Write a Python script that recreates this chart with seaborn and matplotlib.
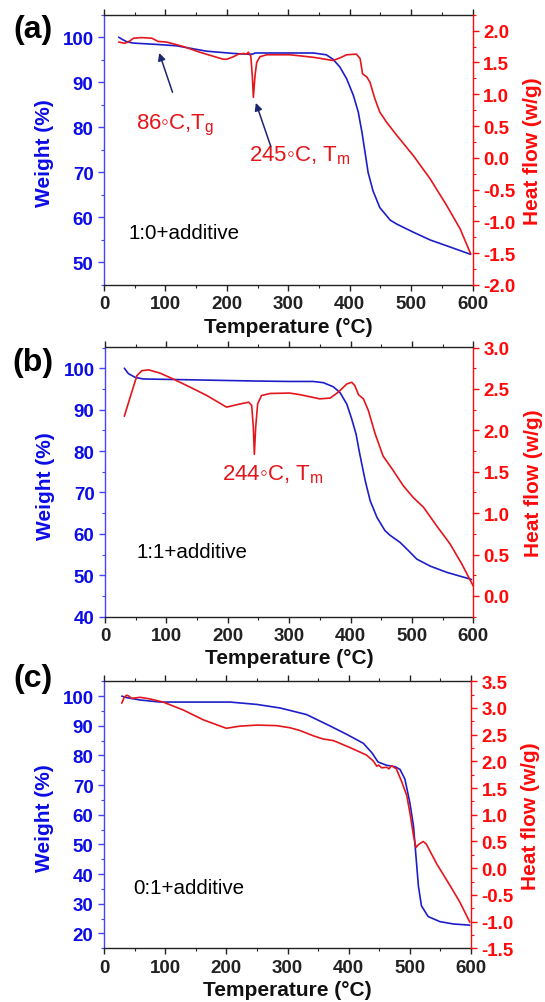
import matplotlib
matplotlib.use("Agg")
import matplotlib.pyplot as plt
from matplotlib.ticker import MultipleLocator, FormatStrFormatter
import seaborn as sns

# ---------------- data ----------------
# panel (a) 1:0+additive
a_w_T = [24, 30, 37, 48, 86, 118, 167, 211, 238, 243, 246, 250, 303, 341, 362, 373, 384, 395, 406, 414,
         420, 425, 430, 438, 449, 466, 477, 504, 531, 558, 597]
a_w = [100, 99.5, 99.0, 98.7, 98.4, 98.1, 96.9, 96.4, 96.2, 96.3, 96.5, 96.5, 96.5, 96.5, 96.1, 95.1, 93.4, 90.8, 87.1, 83.4,
       78.9, 74.5, 70.0, 65.9, 62.2, 59.4, 58.5, 56.7, 55.0, 53.7, 51.8]
a_h_T = [24, 34, 41, 48, 61, 78, 88, 102, 129, 156, 194, 200, 211, 219, 227, 232, 235, 239, 241.5, 243.2,
         245.9, 248.6, 254, 265, 303, 341, 373, 384, 395, 411, 417, 421, 428, 433, 441, 449, 460, 477, 504, 531,
         558, 580, 597]
a_h = [1.82, 1.80, 1.83, 1.88, 1.89, 1.88, 1.83, 1.82, 1.75, 1.66, 1.55, 1.55, 1.59, 1.63, 1.64, 1.63, 1.66, 1.60, 1.29, 0.95,
       1.29, 1.50, 1.59, 1.62, 1.62, 1.58, 1.53, 1.57, 1.62, 1.63, 1.56, 1.32, 1.27, 1.19, 0.93, 0.72, 0.56, 0.35, 0.03, -0.33,
       -0.75, -1.12, -1.51]

# panel (b) 1:1+additive
b_w_T = [31.5, 38, 49, 62, 139, 247, 301, 339, 356, 372, 383, 394, 402, 409, 415, 424, 432, 443, 456, 464,
         481, 492, 508, 530, 557, 597]
b_w = [100, 98.7, 97.8, 97.4, 97.2, 96.9, 96.8, 96.8, 96.5, 95.5, 94.1, 91.3, 87.7, 84.1, 79.3, 72.8, 68.0, 64.0, 60.8, 59.7,
       57.9, 56.3, 53.9, 52.2, 50.7, 49.0]
b_h_T = [31.5, 41, 52, 60, 71, 90, 111, 139, 166, 198, 204, 215, 234, 239, 241.6, 243.3, 245.5, 248.7, 255, 269,
         301, 318, 350, 367, 380, 394, 402, 407, 413, 421, 429, 440, 453, 470, 486, 502, 519, 540, 562, 581,
         595, 600]
b_h = [2.17, 2.40, 2.66, 2.72, 2.73, 2.69, 2.62, 2.52, 2.42, 2.28, 2.29, 2.31, 2.34, 2.30, 2.04, 1.71, 2.04, 2.32, 2.42, 2.445,
       2.45, 2.43, 2.38, 2.39, 2.46, 2.56, 2.58, 2.54, 2.43, 2.38, 2.24, 1.96, 1.69, 1.51, 1.33, 1.19, 1.07, 0.85, 0.63, 0.39,
       0.19, 0.12]

# panel (c) 0:1+additive
c_w_T = [29, 37, 59, 92, 141, 206, 250, 288, 331, 370, 397, 424, 438, 448, 462, 476, 484, 492, 500, 506,
         510, 514, 519, 530, 549, 571, 598]
c_w = [100, 99.5, 98.7, 98.0, 98.0, 98.0, 97.2, 96.0, 93.8, 89.9, 87.1, 84.1, 80.9, 77.8, 76.7, 76.2, 75.3, 72.0, 64.1, 56.2,
       46.1, 36.0, 29.3, 25.7, 24.0, 23.2, 22.8]
c_h_T = [29, 33, 37, 41, 45, 59, 75, 97, 130, 162, 200, 222, 250, 282, 304, 320, 342, 358, 375, 402,
         429, 440, 446, 449, 454, 462, 466, 470, 478, 487, 495, 501, 506, 510, 515, 522, 527, 544, 566, 582,
         598]
c_h = [3.09, 3.20, 3.24, 3.22, 3.18, 3.20, 3.17, 3.11, 2.96, 2.78, 2.62, 2.66, 2.68, 2.67, 2.63, 2.58, 2.48, 2.42, 2.39, 2.26,
       2.12, 2.01, 1.91, 1.93, 1.88, 1.89, 1.86, 1.92, 1.86, 1.61, 1.36, 0.98, 0.61, 0.39, 0.45, 0.50, 0.45, 0.08, -0.33, -0.64,
       -1.01]

panel_letters = ["(a)", "(b)", "(c)"]
sample_labels = ["1:0+additive", "1:1+additive", "0:1+additive"]
x_label = "Temperature (°C)"
w_label = "Weight (%)"
h_label = "Heat flow (w/g)"

# ---------------- style ----------------
sns.set_style("ticks")
plt.rcParams['font.family'] = ['Liberation Sans', 'DejaVu Sans']
plt.rcParams['mathtext.fontset'] = 'custom'
plt.rcParams['mathtext.rm'] = 'Liberation Sans'
plt.rcParams['mathtext.it'] = 'Liberation Sans:italic'
plt.rcParams['mathtext.bf'] = 'Liberation Sans:bold'

BLUE_LINE = "#1e1ec8"
BLUE_TXT = "#0c0ce6"
BLUE_SPINE = "#4444ff"
RED_LINE = "#e3161c"
RED_TXT = "#ff0a0a"
NAVY = "#1b2670"

TICK_FS = 13.5
LABEL_FS = 15
ANN_FS = 16
SAMPLE_FS = 14.8

fig = plt.figure(figsize=(5.45, 10.03), dpi=100)

rects = [
    [104 / 545, (1003 - 286) / 1003, (472.5 - 104) / 545, (286 - 15.7) / 1003],
    [105 / 545, (1003 - 617.7) / 1003, (473.3 - 105) / 545, (617.7 - 348.5) / 1003],
    [104 / 545, (1003 - 949.3) / 1003, (471 - 104) / 545, (949.3 - 682.3) / 1003],
]
wlims = [(45, 105), (40, 105), (15, 105)]
hlims = [(-2.0, 2.25), (-0.25, 3.0), (-1.5, 3.5)]
w_ticks = [range(50, 101, 10), range(40, 101, 10), range(20, 101, 10)]
letter_y = [30, 363, 679]

data = [
    (a_w_T, a_w, a_h_T, a_h),
    (b_w_T, b_w, b_h_T, b_h),
    (c_w_T, c_w, c_h_T, c_h),
]

for i, (wT, w, hT, h) in enumerate(data):
    ax = fig.add_axes(rects[i])
    ax2 = ax.twinx()
    sns.lineplot(x=wT, y=w, ax=ax, color=BLUE_LINE, lw=1.2, estimator=None, sort=False)
    sns.lineplot(x=hT, y=h, ax=ax2, color=RED_LINE, lw=1.2, estimator=None, sort=False)

    ax.set_xlim(0, 600)
    ax.set_ylim(*wlims[i])
    ax2.set_ylim(*hlims[i])
    ax.xaxis.set_major_locator(MultipleLocator(100))
    ax.xaxis.set_minor_locator(MultipleLocator(50))
    ax.set_yticks(list(w_ticks[i]))
    ax.yaxis.set_minor_locator(MultipleLocator(5))
    ax2.yaxis.set_major_locator(MultipleLocator(0.5))
    ax2.yaxis.set_minor_locator(MultipleLocator(0.25))
    ax2.yaxis.set_major_formatter(FormatStrFormatter('%.1f'))

    # spines
    ax.spines['right'].set_visible(False)
    ax.spines['left'].set_color(BLUE_SPINE)
    ax.spines['top'].set_visible(True)
    ax.spines['top'].set_color("#222222")
    ax.spines['bottom'].set_color("#222222")
    for s in ['left', 'top', 'bottom']:
        ax2.spines[s].set_visible(False)
    ax2.spines['right'].set_color(RED_TXT)
    for sp in list(ax.spines.values()) + list(ax2.spines.values()):
        sp.set_linewidth(1.0)

    # ticks
    ax.tick_params(axis='x', which='both', top=True, bottom=True, direction='out',
                   colors="#222222", labelsize=TICK_FS)
    ax.tick_params(axis='x', which='major', length=4.5, width=1.0, pad=3)
    ax.tick_params(axis='x', which='minor', length=2.5, width=0.8)
    ax.tick_params(axis='y', which='both', direction='out', color=BLUE_SPINE,
                   labelcolor=BLUE_TXT, labelsize=TICK_FS)
    ax.tick_params(axis='y', which='major', length=4.5, width=1.0, pad=3)
    ax.tick_params(axis='y', which='minor', length=2.5, width=0.8)
    ax2.tick_params(axis='y', which='both', direction='out', color=RED_TXT,
                    labelcolor=RED_TXT, labelsize=TICK_FS)
    ax2.tick_params(axis='y', which='major', length=4.5, width=1.0, pad=3)
    ax2.tick_params(axis='y', which='minor', length=2.5, width=0.8)
    for lab in ax.get_xticklabels() + ax.get_yticklabels() + ax2.get_yticklabels():
        lab.set_fontweight('bold')

    # labels
    ax.set_xlabel(x_label, fontsize=LABEL_FS, fontweight='bold', color='#111111')
    ax.xaxis.set_label_coords(0.5, -0.118)
    ax.set_ylabel(w_label, fontsize=LABEL_FS, fontweight='bold', color=BLUE_TXT)
    ax.yaxis.set_label_coords(-0.135, 0.49)
    ax2.set_ylabel(h_label, fontsize=LABEL_FS, fontweight='bold', color=RED_TXT)
    ax2.yaxis.set_label_coords(1.137, 0.5)

    fig.text(33 / 545, 1 - letter_y[i] / 1003, panel_letters[i], fontsize=23,
             fontweight='bold', ha='center', va='center', color='black')

    if i == 0:
        ax.text(39.6, 55.5, sample_labels[i], fontsize=SAMPLE_FS, color='black', va='baseline')
        ax.text(52, 79.7, r"86◦C,T$_{\mathrm{g}}$", fontsize=ANN_FS, color=RED_LINE, va='baseline')
        ax.text(236.6, 72.6, r"245◦C, T$_{\mathrm{m}}$", fontsize=ANN_FS, color=RED_LINE, va='baseline')
        ax.annotate("", xy=(88.4, 97.1), xytext=(113, 87.2),
                    arrowprops=dict(arrowstyle='-|>', color=NAVY, lw=1.1, mutation_scale=11))
        ax.annotate("", xy=(245.8, 86.0), xytext=(273, 75.2),
                    arrowprops=dict(arrowstyle='-|>', color=NAVY, lw=1.1, mutation_scale=11))
    elif i == 1:
        ax.text(51.6, 54.5, sample_labels[i], fontsize=SAMPLE_FS, color='black', va='baseline')
        ax.text(191, 73.1, r"244◦C, T$_{\mathrm{m}}$", fontsize=ANN_FS, color=RED_LINE, va='baseline')
    else:
        ax.text(48, 33.8, sample_labels[i], fontsize=SAMPLE_FS, color='black', va='baseline')

fig.savefig("out.png", dpi=100)
